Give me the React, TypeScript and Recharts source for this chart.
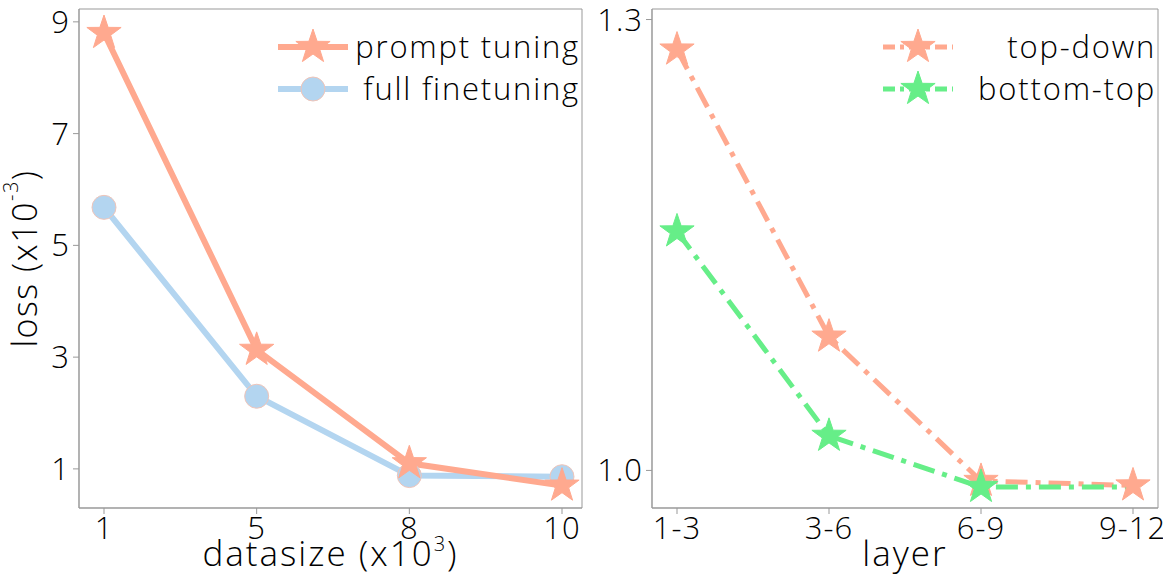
import React from 'react';
import { LineChart, Line, XAxis, YAxis, Legend, CartesianGrid } from 'recharts';

const datasizes = ['1', '5', '8', '10'];
const promptTuning = [8.8, 3.13, 1.1, 0.7];
const fullFinetuning = [5.68, 2.3, 0.88, 0.86];
const lossTicks = [1, 3, 5, 7, 9];

const layers = ['1-3', '3-6', '6-9', '9-12'];
const topDown = [1.28, 1.089, 0.993, 0.99];
const bottomTop = [1.159, 1.023, 0.989, 0.989];
const layerTicks = [1.0, 1.3];

const ORANGE = '#ffa98f';
const BLUE = '#b3d5f0';
const GREEN = '#66ee88';
const FRAME = '#999999';
const FONT = '"Open Sans", Lato, sans-serif';
const DASHDOT = '22 8 5 8';

const leftData = datasizes.map((name, i) => ({ name, prompt: promptTuning[i], full: fullFinetuning[i] }));
const rightData = layers.map((name, i) => ({ name, top: topDown[i], bottom: bottomTop[i] }));

function starPoints(cx: number, cy: number, R: number) {
  const r = R * 0.39;
  const pts: string[] = [];
  for (let i = 0; i < 10; i++) {
    const a = -Math.PI / 2 + (i * Math.PI) / 5;
    const rad = i % 2 === 0 ? R : r;
    pts.push(`${cx + rad * Math.cos(a)},${cy + rad * Math.sin(a)}`);
  }
  return pts.join(' ');
}

const Star = ({ cx, cy, color, size = 18 }: any) =>
  cx == null || cy == null ? <g /> : <polygon points={starPoints(cx, cy, size)} fill={color} stroke={color} strokeWidth={1} />;

const starDot = (color: string, skipLast = false) => (props: any) => {
  if (skipLast && props.index === 3) return <g key={`s${props.index}`} />;
  return <Star key={`s${props.index}`} cx={props.cx} cy={props.cy} color={color} />;
};

const circleDot = (props: any) => (
  <circle key={`c${props.index}`} cx={props.cx} cy={props.cy} r={12} fill={BLUE} stroke="#f0c4b8" strokeWidth={1} />
);

const tickStyle = { fontSize: 31, fill: '#000', fontFamily: FONT, fontWeight: 300, letterSpacing: 1 };

// frame: grid lines only on the plot edges
const edgeRows = ({ offset }: any) => [offset.top, offset.top + offset.height];
const edgeCols = ({ offset }: any) => [offset.left, offset.left + offset.width];

const XTitle = ({ viewBox, text, sup }: any) => {
  const { x, width, y } = viewBox;
  return (
    <text x={x + width / 2} y={y + 58} textAnchor="middle" fontSize={35} fontFamily={FONT} fontWeight={300}
      letterSpacing={2} fill="#000">
      {text}
      {sup && (
        <>
          <tspan dy={-15} fontSize={20}>{sup}</tspan>
          <tspan dy={15}>)</tspan>
        </>
      )}
    </text>
  );
};

const YTitle = ({ viewBox }: any) => {
  const cx = viewBox.x + 24;
  const cy = viewBox.y + viewBox.height / 2;
  return (
    <text x={cx} y={cy} transform={`rotate(-90 ${cx} ${cy})`} textAnchor="middle" dominantBaseline="central"
      fontSize={34} fontFamily={FONT} fontWeight={300} letterSpacing={1.5} fill="#000">
      loss (x10<tspan dy={-14} fontSize={20}>-3</tspan><tspan dy={14}>)</tspan>
    </text>
  );
};

type LegendItem = { label: string; color: string; marker: 'star' | 'circle'; dashed: boolean };

const legendBox = (items: LegendItem[], width: number) => () => (
  <svg width={width} height={90} style={{ display: 'block' }}>
    {items.map((it, i) => {
      const y = 27 + i * 42;
      return (
        <g key={it.label}>
          <line x1={8} x2={78} y1={y} y2={y} stroke={it.color} strokeWidth={it.dashed ? 5 : 6}
            strokeDasharray={it.dashed ? '12 5 4 5' : undefined} />
          {it.marker === 'star'
            ? <Star cx={43} cy={y} color={it.color} />
            : <circle cx={43} cy={y} r={12} fill={it.color} stroke="#f0c4b8" strokeWidth={1} />}
          <text x={width - 2} y={y + 11} textAnchor="end" fontSize={31} fontFamily={FONT} fontWeight={300}
            letterSpacing={1.8} fill="#000">
            {it.label}
          </text>
        </g>
      );
    })}
  </svg>
);

const leftLegend = legendBox([
  { label: 'prompt tuning', color: ORANGE, marker: 'star', dashed: false },
  { label: 'full finetuning', color: BLUE, marker: 'circle', dashed: false },
], 312);

const rightLegend = legendBox([
  { label: 'top-down', color: ORANGE, marker: 'star', dashed: true },
  { label: 'bottom-top', color: GREEN, marker: 'star', dashed: true },
], 283);

export default function App() {
  return (
    <div style={{ display: 'flex', width: 1163, height: 582, background: '#fff' }}>
      <style>{'body{margin:0}'}</style>
      <LineChart width={590} height={582} data={leftData} margin={{ top: 9, right: 8, bottom: 0, left: 0 }}>
        <CartesianGrid stroke={FRAME} horizontalCoordinatesGenerator={edgeRows} verticalCoordinatesGenerator={edgeCols} />
        <XAxis dataKey="name" height={74} padding={{ left: 25, right: 20 }} tick={tickStyle}
          tickSize={6} tickMargin={3} stroke={FRAME} tickLine={{ stroke: FRAME }} axisLine={{ stroke: FRAME }}
          label={{ content: (p: any) => <XTitle {...p} text="datasize (x10" sup="3" /> }} />
        <YAxis width={79} domain={[0.3, 9.23]} ticks={lossTicks} tick={tickStyle} tickSize={6} tickMargin={3}
          stroke={FRAME} tickLine={{ stroke: FRAME }} axisLine={{ stroke: FRAME }} allowDataOverflow
          label={{ content: (p: any) => <YTitle {...p} /> }} />
        <Legend content={leftLegend} layout="horizontal" verticalAlign="middle" align="center"
          wrapperStyle={{ left: 270, top: 20, width: 312 }} />
        <Line dataKey="full" stroke={BLUE} strokeWidth={6} dot={circleDot} activeDot={false} isAnimationActive={false} />
        <Line dataKey="prompt" stroke={ORANGE} strokeWidth={6} dot={starDot(ORANGE)} activeDot={false} isAnimationActive={false} />
      </LineChart>
      <LineChart width={573} height={582} data={rightData} margin={{ top: 9, right: 5, bottom: 0, left: 0 }}>
        <CartesianGrid stroke={FRAME} horizontalCoordinatesGenerator={edgeRows} verticalCoordinatesGenerator={edgeCols} />
        <XAxis dataKey="name" height={74} padding={{ left: 25, right: 25 }} tick={tickStyle}
          tickSize={6} tickMargin={3} stroke={FRAME} tickLine={{ stroke: FRAME }} axisLine={{ stroke: FRAME }}
          label={{ content: (p: any) => <XTitle {...p} text="layer" /> }} />
        <YAxis width={62} domain={[0.975, 1.307]} ticks={layerTicks} tickFormatter={(v: number) => v.toFixed(1)}
          tick={tickStyle} tickSize={6} tickMargin={3} stroke={FRAME} tickLine={{ stroke: FRAME }}
          axisLine={{ stroke: FRAME }} allowDataOverflow />
        <Legend content={rightLegend} layout="horizontal" verticalAlign="middle" align="center"
          wrapperStyle={{ left: 285, top: 20, width: 283 }} />
        <Line dataKey="top" stroke={ORANGE} strokeWidth={5} strokeDasharray={DASHDOT} dot={starDot(ORANGE)}
          activeDot={false} isAnimationActive={false} />
        <Line dataKey="bottom" stroke={GREEN} strokeWidth={5} strokeDasharray={DASHDOT} dot={starDot(GREEN, true)}
          activeDot={false} isAnimationActive={false} />
      </LineChart>
    </div>
  );
}
